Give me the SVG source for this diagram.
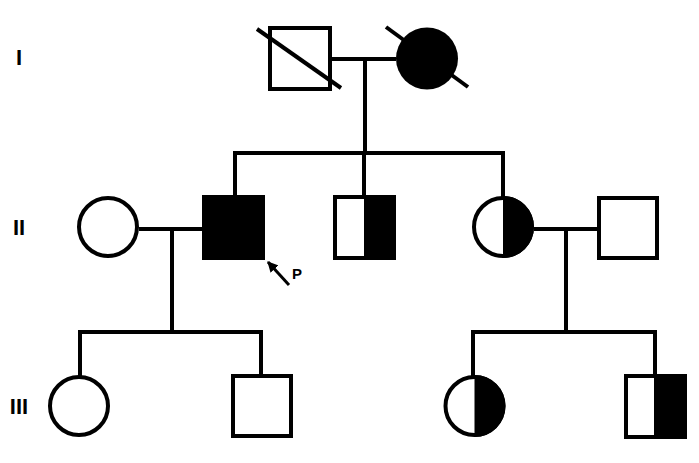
<svg xmlns="http://www.w3.org/2000/svg" width="699" height="463" viewBox="0 0 699 463">
<defs>
<style>
.ln{stroke:#000;stroke-width:4;fill:none}
.ar{stroke:#000;stroke-width:3;fill:none}
.sh{stroke:#000;stroke-width:4;fill:#fff}
.fl{fill:#000}
.gen{font-family:"Liberation Sans",Arial,sans-serif;font-weight:bold;font-size:22px;fill:#000}
.p{font-family:"Liberation Sans",Arial,sans-serif;font-weight:bold;font-size:15px;fill:#000}
</style>
<marker id="ah" viewBox="0 0 10 10" refX="9" refY="5" markerWidth="3.6" markerHeight="3.6" orient="auto-start-reverse">
<path d="M0,0 L10,5 L0,10 z" fill="#000"/>
</marker>
</defs>
<rect width="699" height="463" fill="#fff"/>
<g id="labels">
<text class="gen" x="19" y="65" text-anchor="middle">I</text>
<text class="gen" x="19" y="235" text-anchor="middle">II</text>
<text class="gen" x="19" y="414" text-anchor="middle">III</text>
</g>
<g id="connectors">
<line class="ln" x1="331" y1="59" x2="396" y2="59"/>
<line class="ln" x1="365" y1="59" x2="365" y2="153"/>
<line class="ln" x1="233" y1="153" x2="505" y2="153"/>
<line class="ln" x1="235" y1="153" x2="235" y2="197"/>
<line class="ln" x1="364" y1="153" x2="364" y2="197"/>
<line class="ln" x1="503" y1="153" x2="503" y2="197"/>
<line class="ln" x1="139" y1="229" x2="203" y2="229"/>
<line class="ln" x1="172" y1="229" x2="172" y2="332"/>
<line class="ln" x1="78" y1="332" x2="263" y2="332"/>
<line class="ln" x1="80" y1="332" x2="80" y2="376"/>
<line class="ln" x1="261" y1="332" x2="261" y2="376"/>
<line class="ln" x1="534" y1="229" x2="598" y2="229"/>
<line class="ln" x1="566" y1="229" x2="566" y2="332"/>
<line class="ln" x1="471" y1="332" x2="657" y2="332"/>
<line class="ln" x1="473" y1="332" x2="473" y2="376"/>
<line class="ln" x1="655" y1="332" x2="655" y2="376"/>
</g>
<g id="I-1">
<rect class="sh" x="270" y="28" width="60" height="61"/>
<line class="ln" x1="257" y1="29" x2="341" y2="88"/>
</g>
<g id="I-2">
<circle class="fl" cx="427" cy="58.5" r="31"/>
<line class="ln" x1="386" y1="27" x2="468" y2="87"/>
</g>
<g id="II-1">
<circle class="sh" cx="108" cy="227" r="29"/>
</g>
<g id="II-2">
<rect class="fl" x="202" y="195" width="63" height="65"/>
</g>
<g id="II-3">
<rect class="sh" x="335" y="197" width="59" height="61"/>
<rect class="fl" x="364" y="197" width="30" height="61"/>
</g>
<g id="II-4">
<circle class="sh" cx="503" cy="227" r="29"/>
<path class="fl" d="M503,196 A31,31 0 0 1 503,258 Z"/>
</g>
<g id="II-5">
<rect class="sh" x="599" y="198" width="58" height="60"/>
</g>
<g id="III-1">
<circle class="sh" cx="79" cy="406" r="29"/>
</g>
<g id="III-2">
<rect class="sh" x="233" y="376" width="58" height="60"/>
</g>
<g id="III-3">
<circle class="sh" cx="474.5" cy="406" r="29"/>
<path class="fl" d="M474.5,375 A31,31 0 0 1 474.5,437 Z"/>
</g>
<g id="III-4">
<rect class="sh" x="626" y="376" width="59" height="61"/>
<rect class="fl" x="654" y="374" width="33" height="65"/>
</g>
<g id="proband">
<line class="ar" x1="289" y1="285" x2="268" y2="262" marker-end="url(#ah)"/>
<text class="p" x="292" y="279">P</text>
</g>
</svg>
